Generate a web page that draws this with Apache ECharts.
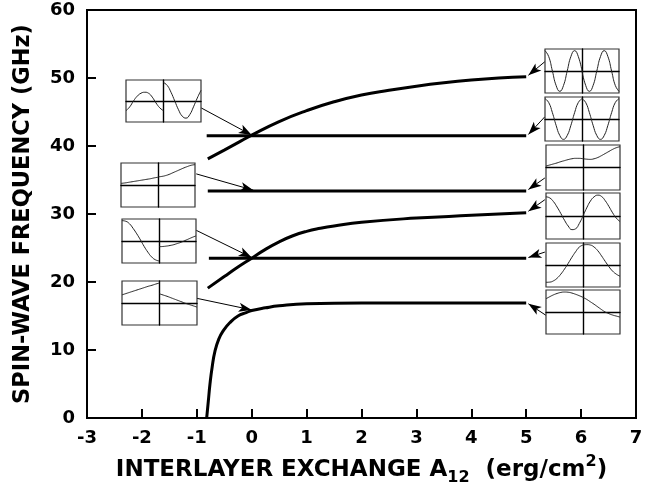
<!DOCTYPE html>
<html><head><meta charset="utf-8">
<script src="https://cdn.jsdelivr.net/npm/echarts@6/dist/echarts.min.js"></script>
<style>html,body{margin:0;padding:0;background:#fff}#c{width:648px;height:488px}</style>
</head><body><div id="c"></div>
<script>
// ---------- main chart data ----------
const xTickMin = -3, xTickMax = 7, xTickStep = 1;
const yTickMin = 0, yTickMax = 60, yTickStep = 10;

const curveLowX = [-0.82,-0.79,-0.76,-0.72,-0.67,-0.6,-0.52,-0.4,-0.25,-0.1,0,0.25,0.5,1,2,3,4,5];
const curveLowY = [0,2.5,5,7.5,9.8,11.6,12.8,14,15,15.5,15.8,16.2,16.5,16.8,16.9,16.9,16.9,16.9];
const curveMidX = [-0.8,-0.5,-0.25,0,0.25,0.5,0.75,1,1.25,1.5,2,3,4,5];
const curveMidY = [19.1,20.8,22.2,23.5,24.8,25.9,26.8,27.45,27.9,28.25,28.8,29.4,29.8,30.2];
const curveTopX = [-0.8,-0.5,-0.25,0,0.5,1,1.5,2,2.5,3,3.5,4,4.5,5];
const curveTopY = [38.1,39.4,40.5,41.6,43.6,45.2,46.5,47.5,48.2,48.8,49.3,49.7,50.0,50.2];

const levelY = [41.5, 33.4, 23.5];
const levelStartX = [-0.82, -0.8, -0.78];
const levelEndX = [5, 5, 5];

const arrowFrom = [[-0.92,45.6],[-1.01,35.9],[-1.01,27.6],[-1.0,17.6],
                   [5.34,52.4],[5.34,44.3],[5.34,35.3],[5.34,32.1],[5.34,24.4],[5.36,15.1]];
const arrowTo   = [[0,41.6],[0.03,33.5],[0,23.6],[0,15.9],
                   [5.04,50.4],[5.04,41.7],[5.04,33.6],[5.04,30.4],[5.04,23.6],[5.04,16.8]];

// ---------- mode-profile insets (normalised amplitude, per layer half) ----------
const profT = [0,0.1,0.2,0.3,0.4,0.5,0.6,0.7,0.8,0.9,1];
const modeL1Left  = [-0.5,-0.3,0.0,0.25,0.4,0.45,0.4,0.2,-0.1,-0.35,-0.5];
const modeL1Right = [0.95,0.8,0.45,0.0,-0.45,-0.78,-0.88,-0.7,-0.3,0.15,0.55];
const modeL2Left  = [0.08,0.1,0.13,0.16,0.19,0.22,0.25,0.28,0.31,0.35,0.38];
const modeL2Right = [0.4,0.42,0.46,0.52,0.6,0.68,0.76,0.84,0.91,0.97,1.0];
const modeL3Left  = [1.0,0.97,0.85,0.62,0.35,0.05,-0.27,-0.55,-0.78,-0.92,-0.98];
const modeL3Right = [-0.28,-0.27,-0.25,-0.22,-0.18,-0.12,-0.06,0.02,0.1,0.18,0.25];
const modeL4Left  = [0.4,0.46,0.52,0.58,0.64,0.7,0.76,0.82,0.87,0.93,0.98];
const modeL4Right = [0.45,0.39,0.33,0.26,0.19,0.12,0.05,-0.02,-0.08,-0.14,-0.2];
const modeR1Left  = [1,0.71,0,-0.71,-1,-0.71,0,0.71,1,0.71,0];
const modeR1Right = [0,-0.71,-1,-0.71,0,0.71,1,0.71,0,-0.71,-1];
const modeR2Left  = [1,0.81,0.31,-0.31,-0.81,-1,-0.81,-0.31,0.31,0.81,1];
const modeR2Right = [1,0.81,0.31,-0.31,-0.81,-1,-0.81,-0.31,0.31,0.81,1];
const modeR3Left  = [0.07,0.12,0.17,0.22,0.28,0.33,0.38,0.42,0.44,0.44,0.42];
const modeR3Right = [0.42,0.4,0.39,0.42,0.48,0.57,0.67,0.77,0.87,0.95,1.0];
const modeR4Left  = [0.9,0.85,0.68,0.42,0.12,-0.2,-0.47,-0.64,-0.6,-0.35,0.0];
const modeR4Right = [0.0,0.38,0.7,0.9,0.98,0.92,0.72,0.45,0.15,-0.1,-0.26];
const modeR5Left  = [-0.85,-0.84,-0.78,-0.65,-0.45,-0.2,0.08,0.38,0.65,0.88,0.98];
const modeR5Right = [0.98,1.0,0.98,0.88,0.7,0.45,0.18,-0.08,-0.3,-0.45,-0.55];
const modeR6Left  = [0.65,0.75,0.84,0.91,0.96,0.98,0.97,0.93,0.87,0.8,0.72];
const modeR6Right = [0.72,0.62,0.5,0.38,0.25,0.12,0.0,-0.08,-0.15,-0.2,-0.25];

// ---------- layout ----------
const FONT = 'DejaVu Sans';
const insetBoxes = [
  [126,80,75,42],[121,163,74,44],[122,219,74,44],[122,281,75,44],
  [545,49,74,44],[545,97,74,44],[546,145,74,45],[546,193,74,46],[546,243,74,44],[546,290,74,44]
];
const insetModes = [
  [modeL1Left,modeL1Right],[modeL2Left,modeL2Right],[modeL3Left,modeL3Right],[modeL4Left,modeL4Right],
  [modeR1Left,modeR1Right],[modeR2Left,modeR2Right],[modeR3Left,modeR3Right],[modeR4Left,modeR4Right],
  [modeR5Left,modeR5Right],[modeR6Left,modeR6Right]
];

const zip = (xs, ys) => xs.map((x,i)=>[x, ys[i]]);

const grids = [{left:87, top:10, width:549, height:408, show:true, borderColor:'#000', borderWidth:2,
  backgroundColor:'transparent', containLabel:false, outerBoundsMode:'none'}];
const xAxes = [{
  gridIndex:0, type:'value', min:xTickMin, max:xTickMax, interval:xTickStep,
  axisLine:{show:true, onZero:false, lineStyle:{color:'#000', width:2}},
  axisTick:{show:true, inside:true, length:9, lineStyle:{color:'#000', width:2}},
  splitLine:{show:false},
  axisLabel:{color:'#000', fontFamily:FONT, fontSize:18, fontWeight:'bold', margin:11},
  name:'INTERLAYER EXCHANGE A{sub|12}  (erg/cm{sup|2})', nameLocation:'middle', nameGap:36,
  nameTextStyle:{color:'#000', fontFamily:FONT, fontSize:23, fontWeight:'bold', lineHeight:32,
    rich:{
      sub:{color:'#000', fontFamily:FONT, fontSize:16, fontWeight:'bold', verticalAlign:'bottom', lineHeight:16},
      sup:{color:'#000', fontFamily:FONT, fontSize:16, fontWeight:'bold', verticalAlign:'top', lineHeight:16}
    }}
}];
const yAxes = [{
  gridIndex:0, type:'value', min:yTickMin, max:yTickMax, interval:yTickStep,
  axisLine:{show:true, onZero:false, lineStyle:{color:'#000', width:2}},
  axisTick:{show:true, inside:true, length:9, lineStyle:{color:'#000', width:2}},
  splitLine:{show:false},
  axisLabel:{color:'#000', fontFamily:FONT, fontSize:18, fontWeight:'bold', margin:12},
  name:'SPIN-WAVE FREQUENCY (GHz)', nameLocation:'middle', nameGap:52, nameRotate:90,
  nameTextStyle:{color:'#000', fontFamily:FONT, fontSize:22.5, fontWeight:'bold'}
}];

const lineStyleMain = {color:'#000', width:3};
const series = [
  {type:'line', xAxisIndex:0, yAxisIndex:0, data:zip(curveLowX,curveLowY), smooth:0.5, showSymbol:false, lineStyle:lineStyleMain, z:5},
  {type:'line', xAxisIndex:0, yAxisIndex:0, data:zip(curveMidX,curveMidY), smooth:0.5, showSymbol:false, lineStyle:lineStyleMain, z:5},
  {type:'line', xAxisIndex:0, yAxisIndex:0, data:zip(curveTopX,curveTopY), smooth:0.5, showSymbol:false, lineStyle:lineStyleMain, z:5}
];
levelY.forEach((y,i)=>{
  series.push({type:'line', xAxisIndex:0, yAxisIndex:0, data:[[levelStartX[i],y],[levelEndX[i],y]],
    showSymbol:false, lineStyle:lineStyleMain, z:5});
});
series.push({
  type:'line', xAxisIndex:0, yAxisIndex:0, data:[], silent:true, z:6,
  markLine:{
    silent:true, animation:false, label:{show:false},
    lineStyle:{color:'#000', width:1, type:'solid'},
    data: arrowFrom.map((p,i)=>[
      {coord:p, symbol:'none'},
      {coord:arrowTo[i], symbol:'arrow', symbolSize:[7,13]}
    ])
  }
});

insetBoxes.forEach((b,k)=>{
  const gi = k+1;
  grids.push({left:b[0], top:b[1], width:b[2], height:b[3], show:true, borderColor:'#333', borderWidth:1.2,
    backgroundColor:'#fff', z:10, containLabel:false, outerBoundsMode:'none'});
  xAxes.push({gridIndex:gi, type:'value', min:-1, max:1, show:true,
    axisLine:{show:true, onZero:true, lineStyle:{color:'#000', width:1.4}},
    axisTick:{show:false}, axisLabel:{show:false}, splitLine:{show:false}, z:10});
  yAxes.push({gridIndex:gi, type:'value', min:-1.08, max:1.08, show:true,
    axisLine:{show:true, onZero:true, lineStyle:{color:'#000', width:1.4}},
    axisTick:{show:false}, axisLabel:{show:false}, splitLine:{show:false}, z:10});
  const [lv, rv] = insetModes[k];
  series.push({type:'line', xAxisIndex:gi, yAxisIndex:gi, data:profT.map((t,i)=>[t-1, lv[i]]),
    smooth:0.5, showSymbol:false, lineStyle:{color:'#222', width:1}, z:11});
  series.push({type:'line', xAxisIndex:gi, yAxisIndex:gi, data:profT.map((t,i)=>[t, rv[i]]),
    smooth:0.5, showSymbol:false, lineStyle:{color:'#222', width:1}, z:11});
});

const chart = echarts.init(document.getElementById('c'), null, {renderer:'canvas'});
chart.setOption({
  backgroundColor:'#fff', animation:false,
  grid:grids, xAxis:xAxes, yAxis:yAxes, series:series
});
</script>
</body></html>
